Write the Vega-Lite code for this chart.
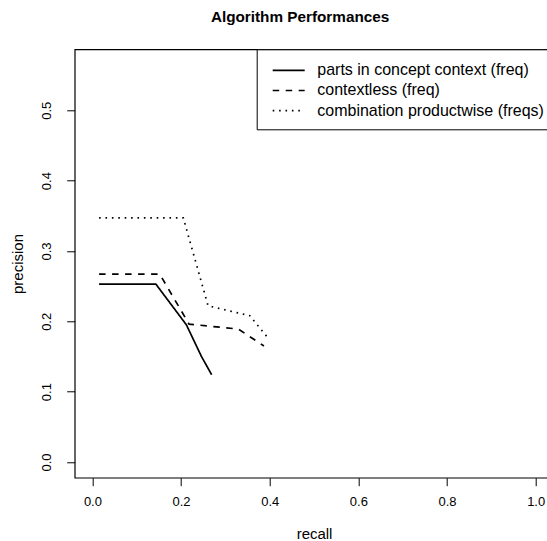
{
  "$schema": "https://vega.github.io/schema/vega-lite/v6.json",
  "width": 478.7,
  "height": 428.4,
  "autosize": "none",
  "padding": {"left": 74.7, "top": 49.3, "right": 0, "bottom": 63},
  "background": "white",
  "config": {
    "font": "Liberation Sans",
    "view": {"stroke": "black", "strokeWidth": 1.2}
  },
  "title": {
    "text": "Algorithm Performances",
    "fontSize": 15.3,
    "font": "Liberation Sans",
    "fontWeight": "bold",
    "anchor": "middle",
    "dx": -14,
    "offset": 23,
    "color": "black"
  },
  "data": {
    "values": [
      {"series": "parts in concept context (freq)", "recall": 0.015, "precision": 0.253},
      {"series": "parts in concept context (freq)", "recall": 0.143, "precision": 0.253},
      {"series": "parts in concept context (freq)", "recall": 0.212, "precision": 0.195},
      {"series": "parts in concept context (freq)", "recall": 0.246, "precision": 0.150},
      {"series": "parts in concept context (freq)", "recall": 0.269, "precision": 0.124},
      {"series": "contextless (freq)", "recall": 0.015, "precision": 0.267},
      {"series": "contextless (freq)", "recall": 0.152, "precision": 0.267},
      {"series": "contextless (freq)", "recall": 0.218, "precision": 0.196},
      {"series": "contextless (freq)", "recall": 0.329, "precision": 0.189},
      {"series": "contextless (freq)", "recall": 0.387, "precision": 0.165},
      {"series": "combination productwise (freqs)", "recall": 0.015, "precision": 0.347},
      {"series": "combination productwise (freqs)", "recall": 0.205, "precision": 0.347},
      {"series": "combination productwise (freqs)", "recall": 0.261, "precision": 0.222},
      {"series": "combination productwise (freqs)", "recall": 0.355, "precision": 0.208},
      {"series": "combination productwise (freqs)", "recall": 0.394, "precision": 0.178}
    ]
  },
  "mark": {"type": "line", "color": "black", "strokeWidth": 1.7, "clip": true},
  "encoding": {
    "x": {
      "field": "recall",
      "type": "quantitative",
      "scale": {"domain": [-0.04, 1.04], "nice": false, "zero": false},
      "axis": {
        "values": [0, 0.2, 0.4, 0.6, 0.8, 1.0],
        "format": ".1f",
        "grid": false,
        "domain": false,
        "ticks": true,
        "tickSize": 8,
        "tickColor": "black",
        "labelFontSize": 13,
        "labelColor": "black",
        "labelPadding": 10,
        "title": "recall",
        "titleFontSize": 15,
        "titleFontWeight": "normal",
        "titleColor": "black",
        "titlePadding": 18
      }
    },
    "y": {
      "field": "precision",
      "type": "quantitative",
      "scale": {"domain": [-0.0223, 0.5867], "nice": false, "zero": false},
      "axis": {
        "values": [0, 0.1, 0.2, 0.3, 0.4, 0.5],
        "format": ".1f",
        "grid": false,
        "domain": false,
        "tickSize": 8,
        "tickColor": "black",
        "labelAngle": -90,
        "labelFontSize": 13,
        "labelColor": "black",
        "labelPadding": 13,
        "title": "precision",
        "titleFontSize": 15,
        "titleFontWeight": "normal",
        "titleColor": "black",
        "titlePadding": 15
      }
    },
    "strokeDash": {
      "field": "series",
      "type": "nominal",
      "sort": null,
      "scale": {
        "domain": ["parts in concept context (freq)", "contextless (freq)", "combination productwise (freqs)"],
        "range": [[1, 0], [6.5, 6.5], [1.6, 4.8]]
      },
      "legend": {
        "orient": "none",
        "legendX": 182,
        "legendY": 0,
        "title": null,
        "strokeColor": "black",
        "fillColor": "white",
        "padding": 10,
        "symbolType": "M-0.5,0H2.7",
        "symbolSize": 400,
        "symbolStrokeWidth": 1.7,
        "symbolStrokeColor": "black",
        "labelFontSize": 16,
        "labelColor": "black",
        "labelOffset": 28.6,
        "labelLimit": 0,
        "rowPadding": 1.2
      }
    }
  }
}
